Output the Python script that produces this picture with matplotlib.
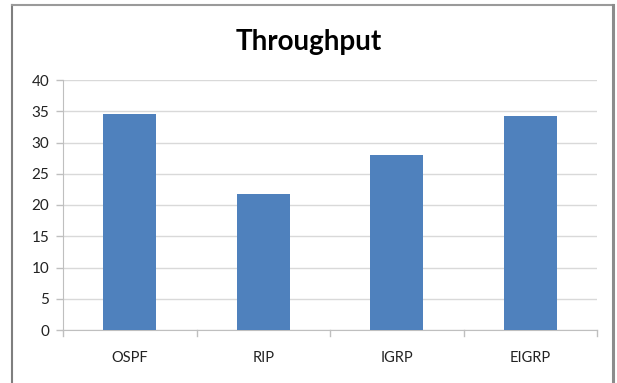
import matplotlib
matplotlib.use("Agg")
import matplotlib.pyplot as plt
from matplotlib.lines import Line2D

protocols = ["OSPF", "RIP", "IGRP", "EIGRP"]
throughput = [34.5, 21.8, 28.0, 34.3]
y_ticks = [0, 5, 10, 15, 20, 25, 30, 35, 40]

W, H = 617, 383
fig = plt.figure(figsize=(W / 100, H / 100), dpi=100)
fig.patch.set_facecolor("white")

def fx(px):
    return px / W

def fy(py):
    return 1 - py / H

# chart frame
fig.add_artist(Line2D([fx(12), fx(12)], [fy(5), fy(383)], color="#7f7f7f", lw=1.5))
fig.add_artist(Line2D([fx(12), fx(613)], [fy(5), fy(5)], color="#9a9a9a", lw=1.5))
fig.add_artist(Line2D([fx(613), fx(613)], [fy(5), fy(383)], color="#8c8c8c", lw=2.2))

ax = fig.add_axes([fx(63), fy(330), fx(597) - fx(63), fy(80) - fy(330)])
x = range(len(protocols))
ax.bar(x, throughput, width=0.4, color="#4f81bd", zorder=3)
ax.set_xlim(-0.5, len(protocols) - 0.5)
ax.set_ylim(0, 40)
ax.set_yticks(y_ticks)
ax.set_yticklabels([str(v) for v in y_ticks], fontsize=11, family="Lato", color="#222222")
ax.set_xticks(list(x))
ax.set_xticklabels(protocols, fontsize=10.5, family="Lato", color="#222222")
ax.tick_params(axis="x", length=0, pad=15)
ax.tick_params(axis="y", length=5, color="#bfbfbf", width=1, pad=5)

# category boundary ticks on x axis
for b in [-0.5, 0.5, 1.5, 2.5, 3.5]:
    ax.plot([b, b], [0, -0.9], color="#bfbfbf", lw=1, clip_on=False, zorder=2)

ax.grid(axis="y", color="#d9d9d9", lw=1, zorder=0)
for s in ["top", "right"]:
    ax.spines[s].set_visible(False)
ax.spines["left"].set_color("#bfbfbf")
ax.spines["bottom"].set_color("#bfbfbf")

fig.text(0.5, fy(42), "Throughput", ha="center", va="center",
         fontsize=20, fontweight="bold", family="Lato", color="black")

fig.savefig("out.png", dpi=100)
